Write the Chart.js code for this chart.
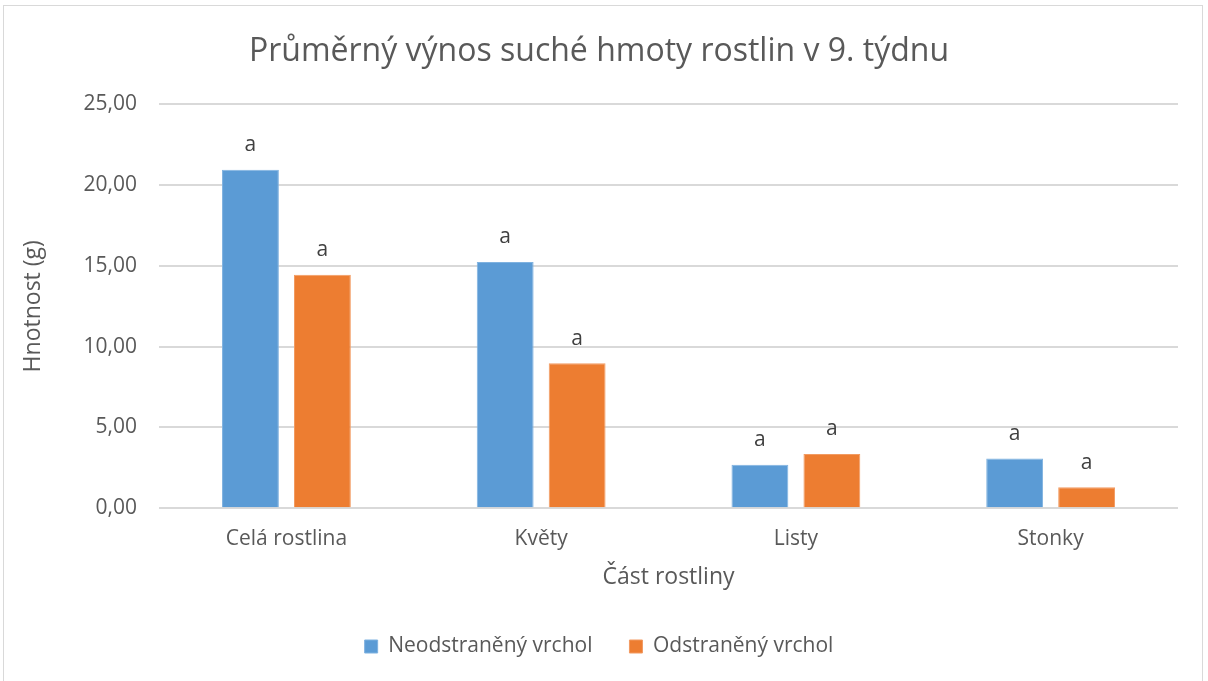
<!DOCTYPE html>
<html>
<head>
<meta charset="utf-8">
<script src="https://cdn.jsdelivr.net/npm/chart.js@4.4.0/dist/chart.umd.min.js"></script>
<style>
  html, body { margin: 0; padding: 0; background: #fff; }
  #box {
    position: absolute; left: 3px; top: 5px;
    width: 1200px; height: 680px;
    border: 1px solid #d9d9d9; box-sizing: border-box;
  }
</style>
</head>
<body>
<div id="box"><canvas id="vynosChart"></canvas></div>
<script>
// data
var categories = ['Celá rostlina', 'Květy', 'Listy', 'Stonky'];
var neodstraneny = [20.95, 15.25, 2.69, 3.07];
var odstraneny = [14.45, 8.97, 3.36, 1.29];
var pismenaNeod = ['a', 'a', 'a', 'a'];
var pismenaOdst = ['a', 'a', 'a', 'a'];
var yTicks = [0, 5, 10, 15, 20, 25];

var textColor = '#595959';
var font = 'Open Sans';

// letters above bars (significance groups)
var letterPlugin = {
  id: 'letters',
  afterDatasetsDraw: function(chart) {
    var ctx = chart.ctx;
    ctx.save();
    ctx.font = '21px "' + font + '"';
    ctx.fillStyle = '#404040';
    ctx.textAlign = 'center';
    ctx.textBaseline = 'bottom';
    chart.data.datasets.forEach(function(ds, i) {
      var meta = chart.getDatasetMeta(i);
      meta.data.forEach(function(bar, j) {
        ctx.fillText(ds.letters[j], bar.x, bar.y - 14);
      });
    });
    ctx.restore();
  }
};

var ctx = document.getElementById('vynosChart').getContext('2d');
var vynosChart = new Chart(ctx, {
  type: 'bar',
  data: {
    labels: categories,
    datasets: [{
      label: 'Neodstraněný vrchol',
      data: neodstraneny,
      letters: pismenaNeod,
      backgroundColor: '#5b9bd5',
      borderColor: '#7fb2e0',
      borderWidth: 1
    }, {
      label: 'Odstraněný vrchol',
      data: odstraneny,
      letters: pismenaOdst,
      backgroundColor: '#ed7d31',
      borderColor: '#f29b62',
      borderWidth: 1
    }]
  },
  options: {
    responsive: true,
    maintainAspectRatio: false,
    animation: false,
    categoryPercentage: 0.565,
    barPercentage: 0.79,
    layout: { padding: { left: 16, right: 24, top: 8, bottom: 17 } },
    scales: {
      x: {
        grid: { display: false },
        border: { display: false },
        ticks: { color: textColor, font: { family: font, size: 21 }, padding: 10 },
        title: {
          display: true, text: 'Část rostliny', color: textColor,
          font: { family: font, size: 23 }, padding: { top: 2, bottom: 8 }
        }
      },
      y: {
        min: 0, max: 25,
        afterBuildTicks: function(axis) {
          axis.ticks = yTicks.map(function(v) { return { value: v }; });
        },
        grid: { color: '#d9d9d9', lineWidth: 2, drawTicks: false },
        border: { display: false },
        ticks: {
          color: textColor, font: { family: font, size: 21 }, padding: 22,
          callback: function(v) { return v.toFixed(2).replace('.', ','); }
        },
        title: {
          display: true, text: 'Hnotnost (g)', color: textColor,
          font: { family: font, size: 23 }, padding: { top: 0, bottom: 14 }
        }
      }
    },
    plugins: {
      title: {
        display: true,
        text: 'Průměrný výnos suché hmoty rostlin v 9. týdnu',
        color: textColor,
        font: { family: font, size: 32, weight: 'normal' },
        padding: { top: 19, bottom: 33 }
      },
      legend: {
        position: 'bottom',
        labels: {
          color: textColor, font: { family: font, size: 21 },
          boxWidth: 13, boxHeight: 13, padding: 37
        }
      },
      tooltip: { enabled: false }
    }
  },
  plugins: [letterPlugin]
});
</script>
</body>
</html>
